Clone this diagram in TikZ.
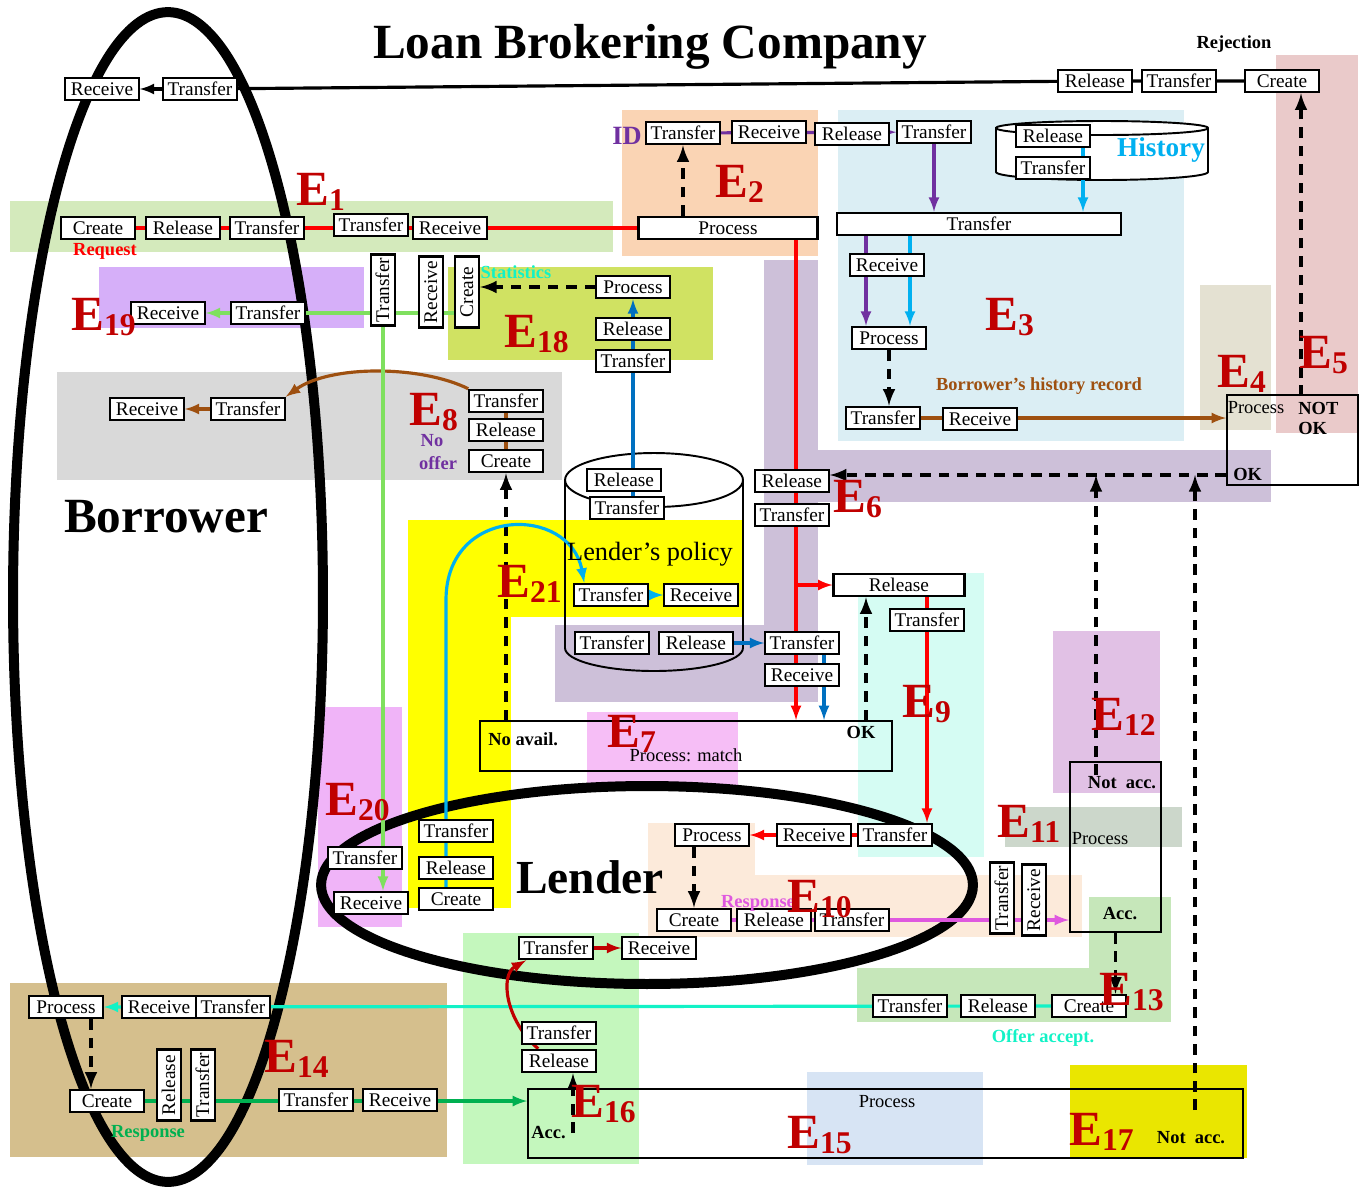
\documentclass[tikz,border=0pt]{standalone}
\usepackage{fontspec}
\setmainfont{Liberation Serif}
\usepackage{xcolor}
\definecolor{evred}{HTML}{C00000}
\definecolor{linered}{HTML}{FF0000}
\definecolor{linepurple}{HTML}{7030A0}
\definecolor{linecyan}{HTML}{00B0F0}
\definecolor{lineblue}{HTML}{0070C0}
\definecolor{linelgreen}{HTML}{7FE05F}
\definecolor{linemagenta}{HTML}{DF58DF}
\definecolor{lineaqua}{HTML}{12F2C6}
\definecolor{linebrown}{HTML}{9E5010}
\definecolor{linegreen}{HTML}{00B050}
\definecolor{bgE1}{HTML}{D4EABC}
\definecolor{bgE2}{HTML}{FAD4B4}
\definecolor{bgE3}{HTML}{DBEEF4}
\definecolor{bgE4}{HTML}{E4E1D2}
\definecolor{bgE5}{HTML}{EACACA}
\definecolor{bgE6}{HTML}{CDC0D9}
\definecolor{bgE7}{HTML}{F6BEF6}
\definecolor{bgE8}{HTML}{D9D9D9}
\definecolor{bgE9}{HTML}{D5FCF3}
\definecolor{bgE10}{HTML}{FCEADA}
\definecolor{bgE11}{HTML}{CCD7CB}
\definecolor{bgE12}{HTML}{E1C1E5}
\definecolor{bgE13}{HTML}{C6E7BA}
\definecolor{bgE14}{HTML}{D5BF8D}
\definecolor{bgE15}{HTML}{D7E4F4}
\definecolor{bgE16}{HTML}{C4F7BD}
\definecolor{bgE17}{HTML}{EAE600}
\definecolor{bgE18}{HTML}{D0E262}
\definecolor{bgE19}{HTML}{D6AFF9}
\definecolor{bgE20}{HTML}{F0B4F8}
\definecolor{bgE21}{HTML}{FFFF00}
\pgfdeclarelayer{bg}
\pgfdeclarelayer{fg}
\pgfsetlayers{bg,main,fg}
\tikzstyle{whrect} = [rectangle, draw=black, line width=1.2pt, fill=white,
minimum width=1.47cm,
minimum height=0.45cm,
inner sep=1pt, text height=7.5pt, text depth=0.5pt,
font=\fontsize{11}{11}\selectfont]
\tikzstyle{whrectrot} = [whrect, rotate=90, minimum width=1.42cm, minimum height=0.48cm]
\tikzstyle{bigrect} = [rectangle, draw=black, line width=1.1pt, inner sep=0pt]
\tikzstyle{evlabel} = [text=evred, font=\fontsize{28}{28}\selectfont\bfseries, inner sep=0pt, anchor=base west]
\tikzstyle{boldnote} = [font=\fontsize{10.5}{10.5}\selectfont\bfseries, inner sep=0pt]
\tikzstyle{plainnote} = [font=\fontsize{10.5}{10.5}\selectfont, inner sep=0pt]
\tikzstyle{headline} = [font=\fontsize{28}{28}\selectfont\bfseries, inner sep=0pt, anchor=base]
\tikzstyle{connline} = [line width=1.8pt]
\tikzstyle{dashline} = [line width=2.2pt, dash pattern=on 6pt off 4.5pt, -latex]
\newcommand{\evt}[1]{E\raisebox{-3pt}{\fontsize{18}{18}\selectfont #1}}

\begin{document}
\begin{tikzpicture}[x=0.02cm, y=-0.02cm]
	\useasboundingbox (0,0) rectangle (1364,1194);
	\begin{pgfonlayer}{bg}
		\fill [bgE1] (10,201) rectangle (613,252);
		\fill [bgE2] (622,110) rectangle (818,256);
		\fill [bgE3] (838,110) rectangle (1184,441);
		\fill [bgE4] (1200,285) rectangle (1271,430);
		\fill [bgE5] (1276,55) rectangle (1358,433);
		\fill [bgE6] (764,260) rectangle (818,702);
		\fill [bgE6] (764,450) rectangle (1271,502);
		\fill [bgE6] (555,625) rectangle (818,702);
		\fill [bgE7] (587,712) rectangle (738,790);
		\fill [bgE8] (57,372) rectangle (562,480);
		\fill [bgE9] (858,573) rectangle (984,857);
		\fill [bgE10] (648,823) rectangle (755,937);
		\fill [bgE10] (648,875) rectangle (1082,937);
		\fill [bgE11] (1005,807) rectangle (1182,847);
		\fill [bgE12] (1053,631) rectangle (1160,793);
		\fill [bgE13] (1089,897) rectangle (1171,1022);
		\fill [bgE13] (857,968) rectangle (1171,1022);
		\fill [bgE14] (10,983) rectangle (447,1157);
		\fill [bgE15] (807,1072) rectangle (983,1165);
		\fill [bgE16] (463,933) rectangle (639,1164);
		\fill [bgE17] (1070,1065) rectangle (1247,1158);
		\fill [bgE18] (448,267) rectangle (713,360);
		\fill [bgE19] (99,267) rectangle (364,328);
		\fill [bgE20] (318,707) rectangle (402,927);
		\fill [bgE21] (408,520) rectangle (743,617);
		\fill [bgE21] (408,520) rectangle (511,908);
		\draw [line width=0.2cm] (168,597) ellipse [x radius=3.1cm, y radius=11.7cm];
		\draw [line width=0.2cm] (647,885) ellipse [x radius=6.52cm, y radius=1.98cm];
		\draw [line width=1.1pt, fill=white] (996,128) -- (996,172) arc [start angle=180, end angle=360, x radius=2.12cm, y radius=0.16cm] -- (1208,128) arc [start angle=0, end angle=180, x radius=2.12cm, y radius=0.14cm] -- cycle;
		\draw [line width=1.1pt] (996,128) arc [start angle=180, end angle=360, x radius=2.12cm, y radius=0.14cm];
		\draw [line width=1.1pt] (565,480) -- (565,648) arc [start angle=180, end angle=360, x radius=1.78cm, y radius=0.46cm] -- (743,480);
		\draw [line width=1.1pt] (654,480) ellipse [x radius=1.78cm, y radius=0.54cm];
	\end{pgfonlayer}

	\begin{pgfonlayer}{fg}
		\node (rc0) [whrect] at (102,89) {Receive};
		\node (tf0) [whrect] at (200,89) {Transfer};
		\node (rl0) [whrect] at (1095,81) {Release};
		\node (tf0r) [whrect] at (1179,81) {Transfer};
		\node (cr0) [whrect] at (1282,81) {Create};

		\node (cr1) [whrect] at (98,228) {Create};
		\node (rl1) [whrect] at (183,228) {Release};
		\node (tf1a) [whrect] at (267,228) {Transfer};
		\node (tf1b) [whrect] at (371,225) {Transfer};
		\node (rc1) [whrect] at (450,228) {Receive};

		\node (tf2a) [whrect] at (683,133) {Transfer};
		\node (rc2) [whrect] at (769,132) {Receive};
		\node (rl2) [whrect] at (852,134) {Release};
		\node (tf2b) [whrect] at (934,132) {Transfer};
		\node (pr2) [whrect, minimum width=3.58cm] at (728,228) {Process};

		\node (rl3h) [whrect] at (1053,136) {Release};
		\node (tf3h) [whrect] at (1053,168) {Transfer};
		\node (tf3) [whrect, minimum width=5.68cm] at (979,224) {Transfer};
		\node (rc3) [whrect] at (887,265) {Receive};
		\node (pr3) [whrect] at (889,338) {Process};
		\node (tf3b) [whrect] at (883,418) {Transfer};
		\node (rc3b) [whrect] at (980,419) {Receive};

		\node (e4box) [bigrect, minimum width=2.62cm, minimum height=1.8cm] at (1292.5,440) {};

		\node (rl6) [whrect] at (792,481) {Release};
		\node (tf6) [whrect] at (792,515) {Transfer};
		\node (tf6b) [whrect] at (802,643) {Transfer};
		\node (rc6b) [whrect] at (802,675) {Receive};

		\node (rl7a) [whrect] at (624,480) {Release};
		\node (tf7a) [whrect] at (627,508) {Transfer};
		\node (tf7b) [whrect] at (611,595) {Transfer};
		\node (rc7b) [whrect] at (701,595) {Receive};
		\node (tf7c) [whrect] at (612,643) {Transfer};
		\node (rl7c) [whrect] at (696,643) {Release};
		\node (e7box) [bigrect, minimum width=8.24cm, minimum height=1cm] at (686,746) {};

		\node (rc8) [whrect] at (147,409) {Receive};
		\node (tf8b) [whrect] at (248,409) {Transfer};
		\node (tf8a) [whrect] at (506,401) {Transfer};
		\node (rl8) [whrect] at (506,430) {Release};
		\node (cr8) [whrect] at (506,461) {Create};

		\node (rl9) [whrect, minimum width=2.62cm] at (899,585) {Release};
		\node (tf9) [whrect] at (927,620) {Transfer};

		\node (pr10) [whrect] at (712,835) {Process};
		\node (rc10) [whrect] at (814,835) {Receive};
		\node (tf10a) [whrect] at (895,835) {Transfer};
		\node (cr10) [whrect] at (694,920) {Create};
		\node (rl10) [whrect] at (774,920) {Release};
		\node (tf10b) [whrect] at (852,920) {Transfer};
		\node (tf10r) [whrectrot] at (1002,898) {Transfer};
		\node (rc10r) [whrectrot] at (1034,900) {Receive};

		\node (e11box) [bigrect, minimum width=1.82cm, minimum height=3.4cm] at (1115.5,847) {};

		\node (tf13) [whrect] at (910,1006) {Transfer};
		\node (rl13) [whrect] at (998,1006) {Release};
		\node (cr13) [whrect] at (1089,1006) {Create};

		\node (pr14) [whrect] at (66,1007) {Process};
		\node (rc14) [whrect] at (159,1007) {Receive};
		\node (tf14) [whrect] at (233,1007) {Transfer};
		\node (cr14) [whrect] at (107,1101) {Create};
		\node (rl14r) [whrectrot] at (169,1085) {Release};
		\node (tf14r) [whrectrot] at (203,1085) {Transfer};
		\node (tf14b) [whrect] at (316,1100) {Transfer};
		\node (rc14b) [whrect] at (400,1100) {Receive};

		\node (e15box) [bigrect, minimum width=14.3cm, minimum height=1.38cm] at (885.5,1123.5) {};

		\node (tf16a) [whrect] at (556,948) {Transfer};
		\node (rc16) [whrect] at (659,948) {Receive};
		\node (tf16b) [whrect] at (559,1033) {Transfer};
		\node (rl16) [whrect] at (559,1061) {Release};

		\node (pr18) [whrect] at (633,287) {Process};
		\node (rl18) [whrect] at (633,329) {Release};
		\node (tf18) [whrect] at (633,361) {Transfer};
		\node (cr18r) [whrectrot] at (467,292) {Create};
		\node (rc18r) [whrectrot] at (431,292) {Receive};
		\node (tf18r) [whrectrot] at (383,290) {Transfer};

		\node (rc19) [whrect] at (168,313) {Receive};
		\node (tf19) [whrect] at (268,313) {Transfer};

		\node (tf20) [whrect] at (365,858) {Transfer};
		\node (rc20) [whrect] at (371,903) {Receive};

		\node (tf21) [whrect] at (456,831) {Transfer};
		\node (rl21) [whrect] at (456,868) {Release};
		\node (cr21) [whrect] at (456,899) {Create};

		\node (title) [headline] at (650,58) {Loan Brokering Company};
		\node (borrower) [headline] at (166,532) {Borrower};
		\node (lender) [headline, font=\fontsize{27}{27}\selectfont\bfseries] at (590,893) {Lender};
		\node (rejection) [boldnote] at (1234,44) {Rejection};
		\node (request) [boldnote, text=linered] at (105,251) {Request};
		\node (idlab) [boldnote, text=linepurple, font=\fontsize{15}{15}\selectfont\bfseries] at (627,136) {ID};
		\node (history) [boldnote, text=linecyan, font=\fontsize{15.5}{15.5}\selectfont\bfseries] at (1161,150) {History};
		\node (histrec) [boldnote, text=linebrown] at (1039,386) {Borrower’s history record};
		\node (stats) [boldnote, text=lineaqua] at (516,272) {Statistics};
		\node (nolab) [boldnote, text=linepurple] at (432,441) {No};
		\node (offerlab) [boldnote, text=linepurple] at (438,463) {offer};
		\node (policy) [plainnote, font=\fontsize{15}{15}\selectfont, anchor=base] at (650,560) {Lender’s policy};
		\node (noavail) [boldnote, anchor=west] at (488,739) {No avail.};
		\node (match) [plainnote] at (686,755) {Process: match};
		\node (ok7) [boldnote] at (861,732) {OK};
		\node (proc4) [plainnote] at (1256,408) {Process};
		\node (notlab) [boldnote, anchor=west] at (1298,408) {NOT};
		\node (oklab) [boldnote, anchor=west] at (1298,428) {OK};
		\node (ok4) [boldnote, anchor=west] at (1233,474) {OK};
		\node (notacc12) [boldnote] at (1122,783) {Not\ \ acc.};
		\node (proc11) [plainnote] at (1100,839) {Process};
		\node (acc13) [boldnote] at (1120,914) {Acc.};
		\node (offeracc) [boldnote, text=lineaqua] at (1043,1038) {Offer accept.};
		\node (resp10) [boldnote, text=linemagenta] at (758,903) {Response};
		\node (resp14) [boldnote, text=linegreen] at (148,1133) {Response};
		\node (acc15) [boldnote, anchor=west] at (531,1133) {Acc.};
		\node (proc15) [plainnote] at (887,1102) {Process};
		\node (notacc17) [boldnote] at (1191,1138) {Not\ \ acc.};

		\node (ev1) [evlabel] at (296,205) {\evt{1}};
		\node (ev2) [evlabel] at (715,197) {\evt{2}};
		\node (ev3) [evlabel] at (985,330) {\evt{3}};
		\node (ev4) [evlabel] at (1217,387) {\evt{4}};
		\node (ev5) [evlabel] at (1299,368) {\evt{5}};
		\node (ev6) [evlabel] at (833,512) {\evt{6}};
		\node (ev7) [evlabel] at (607,747) {\evt{7}};
		\node (ev8) [evlabel] at (409,425) {\evt{8}};
		\node (ev9) [evlabel] at (902,717) {\evt{9}};
		\node (ev10) [evlabel] at (787,912) {\evt{10}};
		\node (ev11) [evlabel] at (997,837) {\evt{11}};
		\node (ev12) [evlabel] at (1091,730) {\evt{12}};
		\node (ev13) [evlabel] at (1099,1005) {\evt{13}};
		\node (ev14) [evlabel] at (264,1072) {\evt{14}};
		\node (ev15) [evlabel] at (787,1148) {\evt{15}};
		\node (ev16) [evlabel] at (571,1117) {\evt{16}};
		\node (ev17) [evlabel] at (1069,1145) {\evt{17}};
		\node (ev18) [evlabel] at (504,347) {\evt{18}};
		\node (ev19) [evlabel] at (71,330) {\evt{19}};
		\node (ev20) [evlabel] at (325,815) {\evt{20}};
		\node (ev21) [evlabel] at (497,597) {\evt{21}};
	\end{pgfonlayer}

	\draw [-latex, line width=1.8pt](tf0) -- (rc0);
	\draw [line width=1.8pt](tf0) -- (rl0) -- (tf0r) -- (cr0);
	\coordinate (nok) at (1301,396);
	\draw [dashline](nok) -- (nok |- cr0.south);

	\draw [connline, linered](cr1) -- (pr2);
	\draw [dashline](pr2.north -| tf2a) -- (tf2a);
	\draw [connline, linepurple, -latex](tf2a) -- (tf2b);
	\coordinate (redx) at (796,0);
	\draw [connline, linered, -latex](redx |- pr2.south) -- (redx |- e7box.north);
	\draw [connline, linered, -latex](redx |- rl9) -- (rl9);

	\draw [connline, linepurple, -latex](tf2b) -- (tf2b |- tf3.north);
	\coordinate (histx) at (1083,0);
	\draw [connline, linecyan, -latex](histx |- rl3h) -- (histx |- tf3.north);
	\coordinate (purx) at (866,0);
	\coordinate (cyax) at (910,0);
	\draw [connline, linepurple, -latex](purx |- tf3.south) -- (purx |- pr3.north);
	\draw [connline, linecyan, -latex](cyax |- tf3.south) -- (cyax |- pr3.north);
	\draw [dashline](pr3) -- (pr3 |- tf3b.north);
	\draw [connline, linebrown, -latex](tf3b) -- (tf3b -| e4box.west);

	\coordinate (okp) at (1226,475);
	\draw [dashline](okp) -- (okp -| rl6.east);
	\coordinate (upa) at (1096,775);
	\coordinate (upb) at (1195,1110);
	\draw [dashline](upa) -- (upa |- okp);
	\draw [dashline](upb) -- (upb |- okp);
	\draw [connline, lineblue, -latex](rl7c) -- (tf6b);
	\coordinate (bluex) at (824,0);
	\draw [connline, lineblue, -latex](bluex |- tf6b.south) -- (bluex |- e7box.north);

	\draw [connline, linecyan, -latex](tf7b) -- (rc7b);
	\draw [connline, lineblue, -latex](pr18 |- tf7a) -- (pr18.south);

	\draw [connline, linered, -latex](tf9 |- rl9.south) -- (tf9 |- tf10a.north);
	\coordinate (okx) at (866,0);
	\draw [dashline](okx |- e7box.north) -- (okx |- rl9.south);

	\draw [dashline](cr8 |- e7box.north) -- (cr8);
	\draw [connline, linebrown](cr8) -- (rl8) -- (tf8a);
	\draw [connline, linebrown, -latex](tf8a.north west) .. controls (420,365) and (330,365) .. (tf8b.north east);
	\draw [connline, linebrown, -latex](tf8b) -- (rc8);

	\draw [dashline](pr18) -- (cr18r.south |- pr18);
	\draw [connline, linelgreen](cr18r |- tf19) -- (tf19);
	\draw [connline, linelgreen, -latex](tf19) -- (rc19);
	\draw [connline, linelgreen, -latex](tf18r) -- (tf18r |- rc20.north);

	\coordinate (polx) at (446,0);
	\draw [connline, linecyan, -latex](polx |- cr21) -- (446,600) .. controls (446,505) and (570,505) .. ([xshift=0.22cm]tf7b.north west);

	\draw [connline, linered](tf10a) -- (rc10);
	\draw [connline, linered, -latex](rc10) -- (pr10);
	\draw [dashline](cr10 |- pr10.south) -- (cr10);
	\draw [connline, linemagenta, -latex](cr10) -- (cr10 -| e11box.west);

	\draw [dashline](e11box.south) -- (e11box.south |- cr13.north);
	\draw [connline, lineaqua, -latex](cr13) -- (pr14);
	\coordinate (procx) at (91,0);
	\draw [dashline](procx |- pr14.south) -- (procx |- cr14.north);
	\draw [connline, linegreen, -latex](cr14) -- (cr14 -| e15box.west);

	\draw [connline, evred, -latex](tf16a) -- (rc16);
	\draw [connline, evred, -latex]([xshift=0.34cm]rl16.north west) .. controls (505,1020) and (500,975) .. ([xshift=0.16cm]tf16a.south west);
	\coordinate (accx) at (573,1133);
	\draw [dashline](accx) -- (accx |- rl16.south);
\end{tikzpicture}
\end{document}
